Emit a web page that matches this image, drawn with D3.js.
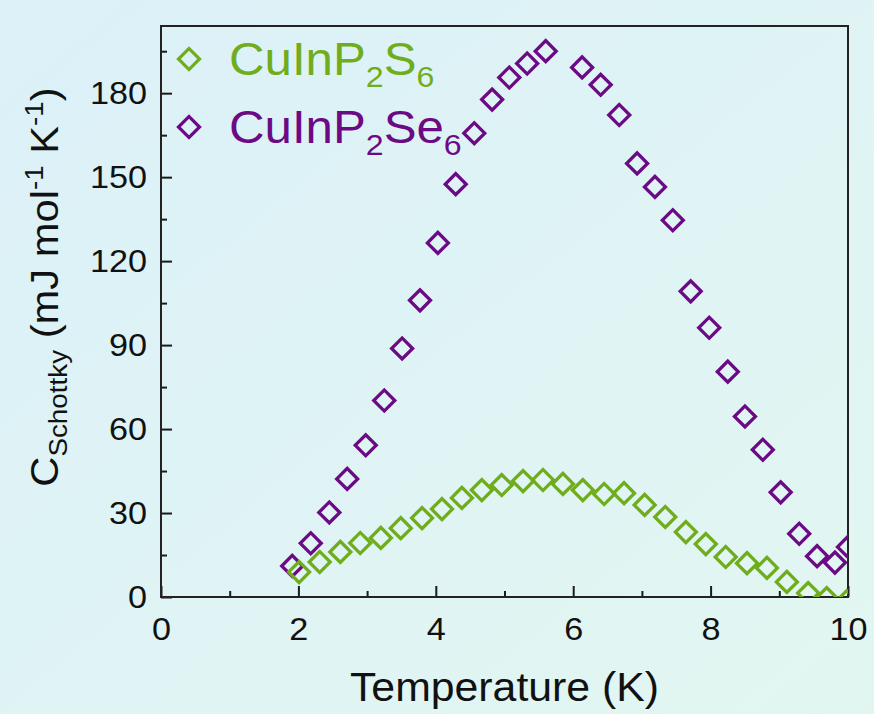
<!DOCTYPE html>
<html>
<head>
<meta charset="utf-8">
<script src="https://cdn.jsdelivr.net/npm/d3@7"></script>
<style>
  html, body { margin: 0; padding: 0; }
  body { width: 874px; height: 714px; overflow: hidden; }
  svg text { font-family: "Liberation Sans", Arial, sans-serif; fill: #111; }
</style>
</head>
<body>
<svg id="chart" width="874" height="714"></svg>
<script>
// CuInP2S6 (green)
let tempS6 = [2.01, 2.31, 2.61, 2.90, 3.20, 3.49, 3.80, 4.09, 4.38, 4.67, 4.96, 5.27, 5.56, 5.85,
  6.14, 6.45, 6.74, 7.04, 7.34, 7.64, 7.93, 8.22, 8.53, 8.82, 9.11, 9.42, 9.69, 9.98];
let cS6 = [8.9, 12.5, 16.1, 19.3, 21.1, 24.6, 28.2, 31.4, 35.4, 38.2, 40.0, 41.4, 41.8, 40.4,
  38.2, 36.8, 37.1, 32.9, 28.6, 23.2, 18.9, 14.3, 12.1, 10.4, 5.4, 1.4, -0.4, -1.5];

// CuInP2Se6 (purple)
let tempSe6 = [1.91, 2.18, 2.45, 2.71, 2.98, 3.25, 3.51, 3.77, 4.03, 4.29, 4.56, 4.82, 5.07, 5.33, 5.60,
  6.13, 6.40, 6.67, 6.93, 7.19, 7.45, 7.71, 7.98, 8.25, 8.50, 8.76, 9.02, 9.29, 9.55, 9.81, 10.0];
let cSe6 = [11.1, 19.2, 30.2, 42.2, 54.2, 70.2, 88.8, 106.0, 126.5, 147.5, 165.7, 177.7, 185.6, 190.6, 195.0,
  189.2, 183.0, 172.2, 154.9, 146.5, 134.6, 109.2, 96.2, 80.5, 64.5, 52.6, 37.4, 22.6, 14.6, 12.3, 17.9];

let xMajor = [0, 2, 4, 6, 8, 10];
let xMinor = [1, 3, 5, 7, 9];
let yMajor = [0, 30, 60, 90, 120, 150, 180];
let yMinor = [15, 45, 75, 105, 135, 165, 195];

let green = "#70ad1c";
let purple = "#6c0a86";
let stretch = 1.07;   // the source lettering is a bit wider than Arial

let margins = { top: 26, right: 26, bottom: 117, left: 161 };
let width = 874 - margins.left - margins.right;
let height = 714 - margins.top - margins.bottom;

let xScale = d3.scaleLinear().domain([0, 10]).range([0, width]);
let yScale = d3.scaleLinear().domain([0, 204]).range([height, 0]);

let svg = d3.select("#chart");

// background
let defs = svg.append("defs");
let grad = defs.append("linearGradient")
  .attr("id", "bg")
  .attr("x1", "0").attr("y1", "0").attr("x2", "1").attr("y2", "1");
grad.append("stop").attr("offset", "0").attr("stop-color", "#dcf1f8");
grad.append("stop").attr("offset", "1").attr("stop-color", "#e2f6f1");
svg.append("rect").attr("width", 874).attr("height", 714).attr("fill", "url(#bg)");

defs.append("clipPath").attr("id", "clip")
  .append("rect").attr("width", width).attr("height", height);

let graph = svg.append("g")
  .attr("transform", "translate(" + margins.left + "," + margins.top + ")");

// axes, ticks pointing inward
let xAxis = d3.axisBottom(xScale).tickValues(xMajor).tickSize(-11).tickPadding(20);
let xAxisMinor = d3.axisBottom(xScale).tickValues(xMinor).tickSize(-6).tickFormat("");
let yAxis = d3.axisLeft(yScale).tickValues(yMajor).tickSize(-11).tickPadding(13);
let yAxisMinor = d3.axisLeft(yScale).tickValues(yMinor).tickSize(-6).tickFormat("");

function styleAxis(g) {
  g.select(".domain").remove();
  g.selectAll("line").attr("stroke", "#1a1a1a").attr("stroke-width", 2);
  g.selectAll("text")
    .style("font-size", "32px")
    .attr("fill", "#111");
}

graph.append("g")
  .attr("class", "x axis")
  .attr("transform", "translate(0," + height + ")")
  .call(xAxis)
  .call(styleAxis)
  .selectAll("text").attr("transform", "scale(" + stretch + ",1)");
graph.append("g")
  .attr("transform", "translate(0," + height + ")")
  .call(xAxisMinor)
  .call(styleAxis);
graph.append("g")
  .attr("class", "y axis")
  .call(yAxis)
  .call(styleAxis)
  .selectAll("text").attr("transform", "scale(" + stretch + ",1)");
graph.append("g")
  .call(yAxisMinor)
  .call(styleAxis);

// frame
graph.append("rect")
  .attr("width", width).attr("height", height)
  .attr("fill", "none").attr("stroke", "#222").attr("stroke-width", 2);

// markers: a square turned 45 degrees
let diamond = d3.symbol().type(d3.symbolSquare).size(220);

function drawSeries(xs, ys, color) {
  let pts = xs.map(function(x, i) { return { t: x, c: ys[i] }; });
  graph.append("g")
    .attr("clip-path", "url(#clip)")
    .selectAll("path")
    .data(pts)
    .enter()
    .append("path")
    .attr("d", diamond)
    .attr("transform", function(d) {
      return "translate(" + xScale(d.t) + "," + yScale(d.c) + ") rotate(45)";
    })
    .attr("fill", "none")
    .attr("stroke", color)
    .attr("stroke-width", 3.3);
}

drawSeries(tempSe6, cSe6, purple);
drawSeries(tempS6, cS6, green);

// legend
let legend = [
  { name: "CuInP", sub1: "2", tail: "S", sub2: "6", color: green, y: 59 },
  { name: "CuInP", sub1: "2", tail: "Se", sub2: "6", color: purple, y: 127 }
];
legend.forEach(function(l) {
  svg.append("path")
    .attr("d", diamond)
    .attr("transform", "translate(189," + l.y + ") rotate(45)")
    .attr("fill", "none")
    .attr("stroke", l.color)
    .attr("stroke-width", 3.3);
  let t = svg.append("text")
    .attr("transform", "translate(229," + (l.y + 16) + ") scale(" + stretch + ",1)")
    .style("font-size", "46px")
    .style("fill", l.color);
  t.append("tspan").text(l.name);
  t.append("tspan").attr("dy", 12).style("font-size", "30px").text(l.sub1);
  t.append("tspan").attr("dy", -12).text(l.tail);
  t.append("tspan").attr("dy", 12).style("font-size", "30px").text(l.sub2);
});

// x axis title
svg.append("text")
  .attr("transform", "translate(" + (margins.left + width / 2) + ",701) scale(" + stretch + ",1)")
  .attr("text-anchor", "middle")
  .style("font-size", "40px")
  .text("Temperature (K)");

// y axis title
let yt = svg.append("text")
  .attr("transform", "translate(58,287) rotate(-90) scale(" + stretch + ",1)")
  .attr("text-anchor", "middle")
  .style("font-size", "39px");
yt.append("tspan").text("C");
yt.append("tspan").attr("dy", 9).style("font-size", "26px").text("Schottky");
yt.append("tspan").attr("dy", -9).text(" (mJ mol");
yt.append("tspan").attr("dy", -15).style("font-size", "26px").text("-1");
yt.append("tspan").attr("dy", 15).text(" K");
yt.append("tspan").attr("dy", -15).style("font-size", "26px").text("-1");
yt.append("tspan").attr("dy", 15).text(")");
</script>
</body>
</html>
